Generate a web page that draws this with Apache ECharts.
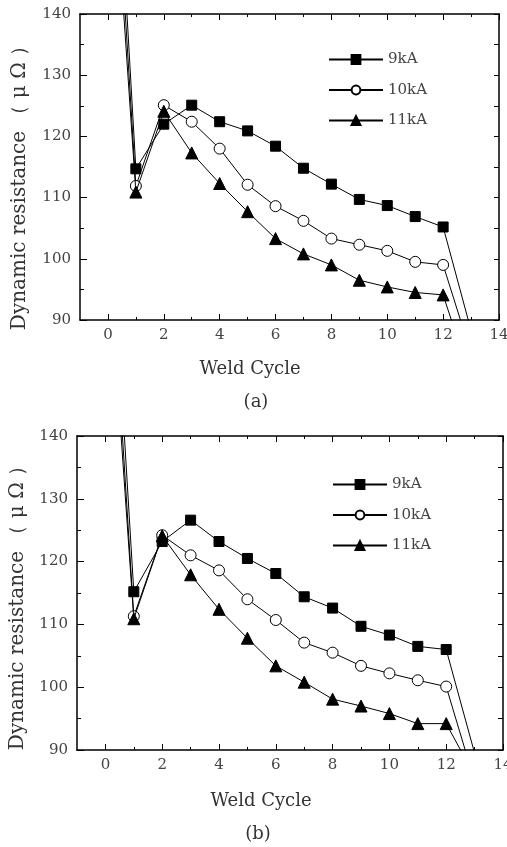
<!DOCTYPE html>
<html>
<head>
<meta charset="utf-8">
<script src="https://cdn.jsdelivr.net/npm/echarts@6/dist/echarts.min.js"></script>
<style>html,body{margin:0;padding:0;background:#fff}#c{width:507px;height:847px}</style>
</head>
<body>
<div id="c"></div>
<script>
// ---- data ----
const cycles = [0,1,2,3,4,5,6,7,8,9,10,11,12,13];
const seriesNames = ['9kA','10kA','11kA'];
const a9  = [194, 114.7, 122.0, 125.1, 122.4, 120.9, 118.4, 114.8, 112.2, 109.7, 108.7, 106.9, 105.2, 88.3];
const a10 = [186, 111.9, 125.1, 122.4, 118.0, 112.1, 108.6, 106.2, 103.3, 102.3, 101.3, 99.5, 99.0, 84.5];
const a11 = [178, 110.9, 124.1, 117.3, 112.3, 107.7, 103.3, 100.8, 99.0, 96.5, 95.4, 94.5, 94.1, 80.2];
const b9  = [190, 115.2, 123.2, 126.6, 123.2, 120.5, 118.1, 114.4, 112.6, 109.7, 108.3, 106.5, 106.0, 89.5];
const b10 = [183, 111.3, 124.2, 121.0, 118.6, 114.0, 110.7, 107.1, 105.5, 103.4, 102.2, 101.1, 100.1, 85.0];
const b11 = [176, 110.9, 124.1, 117.9, 112.4, 107.8, 103.4, 100.8, 98.1, 97.0, 95.8, 94.2, 94.2, 85.9];
const xMajor = [0,2,4,6,8,10,12,14];
const xMinor = [1,3,5,7,9,11,13];
const yTitle = 'Dynamic resistance （ μ Ω ）';
const xTitle = 'Weld Cycle';
const panelLabels = ['(a)','(b)'];

const FONT = 'DejaVu Serif';
const chart = echarts.init(document.getElementById('c'), null, {renderer:'canvas'});

const grids = [
  {left:80, top:14, right:8, height:306, outerBoundsMode:'none', containLabel:false},
  {left:77, top:436, right:4, height:314, outerBoundsMode:'none', containLabel:false}
];

const xAxis = [], yAxis = [], series = [];
const lineStyleAxis = {color:'#000', width:1.5};
grids.forEach((g, gi) => {
  xAxis.push({gridIndex:gi, type:'value', min:-1, max:14, position:'bottom',
    axisLine:{show:true, onZero:false, lineStyle:lineStyleAxis},
    axisTick:{show:true, inside:true, length:6, customValues:xMajor, lineStyle:{color:'#000', width:1}},
    axisLabel:{show:true, customValues:xMajor, margin:8, fontFamily:FONT, fontSize:15, color:'#444', showMaxLabel:true},
    splitLine:{show:false}});
  xAxis.push({gridIndex:gi, type:'value', min:-1, max:14, position:'bottom',
    axisLine:{show:false},
    axisTick:{show:true, inside:true, length:3, customValues:xMinor, lineStyle:{color:'#000', width:1}},
    axisLabel:{show:false}, splitLine:{show:false}});
  xAxis.push({gridIndex:gi, type:'value', min:-1, max:14, position:'top',
    axisLine:{show:true, onZero:false, lineStyle:lineStyleAxis},
    axisTick:{show:true, inside:true, length:6, customValues:xMajor, lineStyle:{color:'#000', width:1}},
    axisLabel:{show:false}, splitLine:{show:false}});
  xAxis.push({gridIndex:gi, type:'value', min:-1, max:14, position:'top',
    axisLine:{show:false},
    axisTick:{show:true, inside:true, length:3, customValues:xMinor, lineStyle:{color:'#000', width:1}},
    axisLabel:{show:false}, splitLine:{show:false}});
  yAxis.push({gridIndex:gi, type:'value', min:90, max:140, interval:10, position:'left',
    axisLine:{show:true, onZero:false, lineStyle:lineStyleAxis},
    axisTick:{show:true, inside:true, length:7, lineStyle:{color:'#000', width:1}},
    minorTick:{show:true, splitNumber:2, length:4, lineStyle:{color:'#000', width:1}},
    axisLabel:{margin:9, fontFamily:FONT, fontSize:15, color:'#444'},
    splitLine:{show:false}});
  yAxis.push({gridIndex:gi, type:'value', min:90, max:140, interval:5, position:'right',
    axisLine:{show:true, onZero:false, lineStyle:lineStyleAxis},
    axisTick:{show:true, inside:true, length:5, lineStyle:{color:'#000', width:1}},
    axisLabel:{show:false}, splitLine:{show:false}});
});

const panelData = [[a9,a10,a11],[b9,b10,b11]];
const symbols = [
  {symbol:'rect', symbolSize:10, itemStyle:{color:'#000', borderColor:'#000', borderWidth:1}},
  {symbol:'circle', symbolSize:11, itemStyle:{color:'#fff', borderColor:'#000', borderWidth:1}},
  {symbol:'triangle', symbolSize:12, itemStyle:{color:'#000', borderColor:'#000', borderWidth:1}}
];
panelData.forEach((arrs, pi) => {
  arrs.forEach((vals, si) => {
    series.push(Object.assign({
      name: seriesNames[si], type:'line',
      xAxisIndex: pi*4, yAxisIndex: pi*2,
      data: cycles.map((c, i) => [c, vals[i]]),
      clip: true, showAllSymbol:true,
      lineStyle:{color:'#000', width:1},
      z: 3 + si,
      animation:false
    }, symbols[si]));
  });
});

const legendCommon = {orient:'vertical', itemWidth:54, itemHeight:11, itemGap:15.5, padding:0,
  data: seriesNames, selectedMode:false,
  textStyle:{fontFamily:FONT, fontSize:15, lineHeight:14, color:'#444'}};
const legend = [
  Object.assign({left:328, top:52}, legendCommon),
  Object.assign({left:332, top:477}, legendCommon)
];

const txt = (x, y, text, size, rot) => ({type:'text', x:x, y:y, rotation: rot||0,
  style:{text:text, fontFamily:FONT, fontSize:size, fill:'#333', textAlign:'center', textVerticalAlign:'middle'}});

const graphic = [
  txt(20, 183, yTitle, 20, Math.PI/2),
  txt(18, 603, yTitle, 20, Math.PI/2),
  txt(250, 369, xTitle, 18),
  txt(256, 402, panelLabels[0], 18),
  txt(261, 801, xTitle, 18),
  txt(258, 834, panelLabels[1], 18)
];

chart.setOption({
  animation:false,
  backgroundColor:'#fff',
  grid: grids,
  xAxis: xAxis,
  yAxis: yAxis,
  legend: legend,
  series: series,
  graphic: graphic
});
</script>
</body>
</html>
